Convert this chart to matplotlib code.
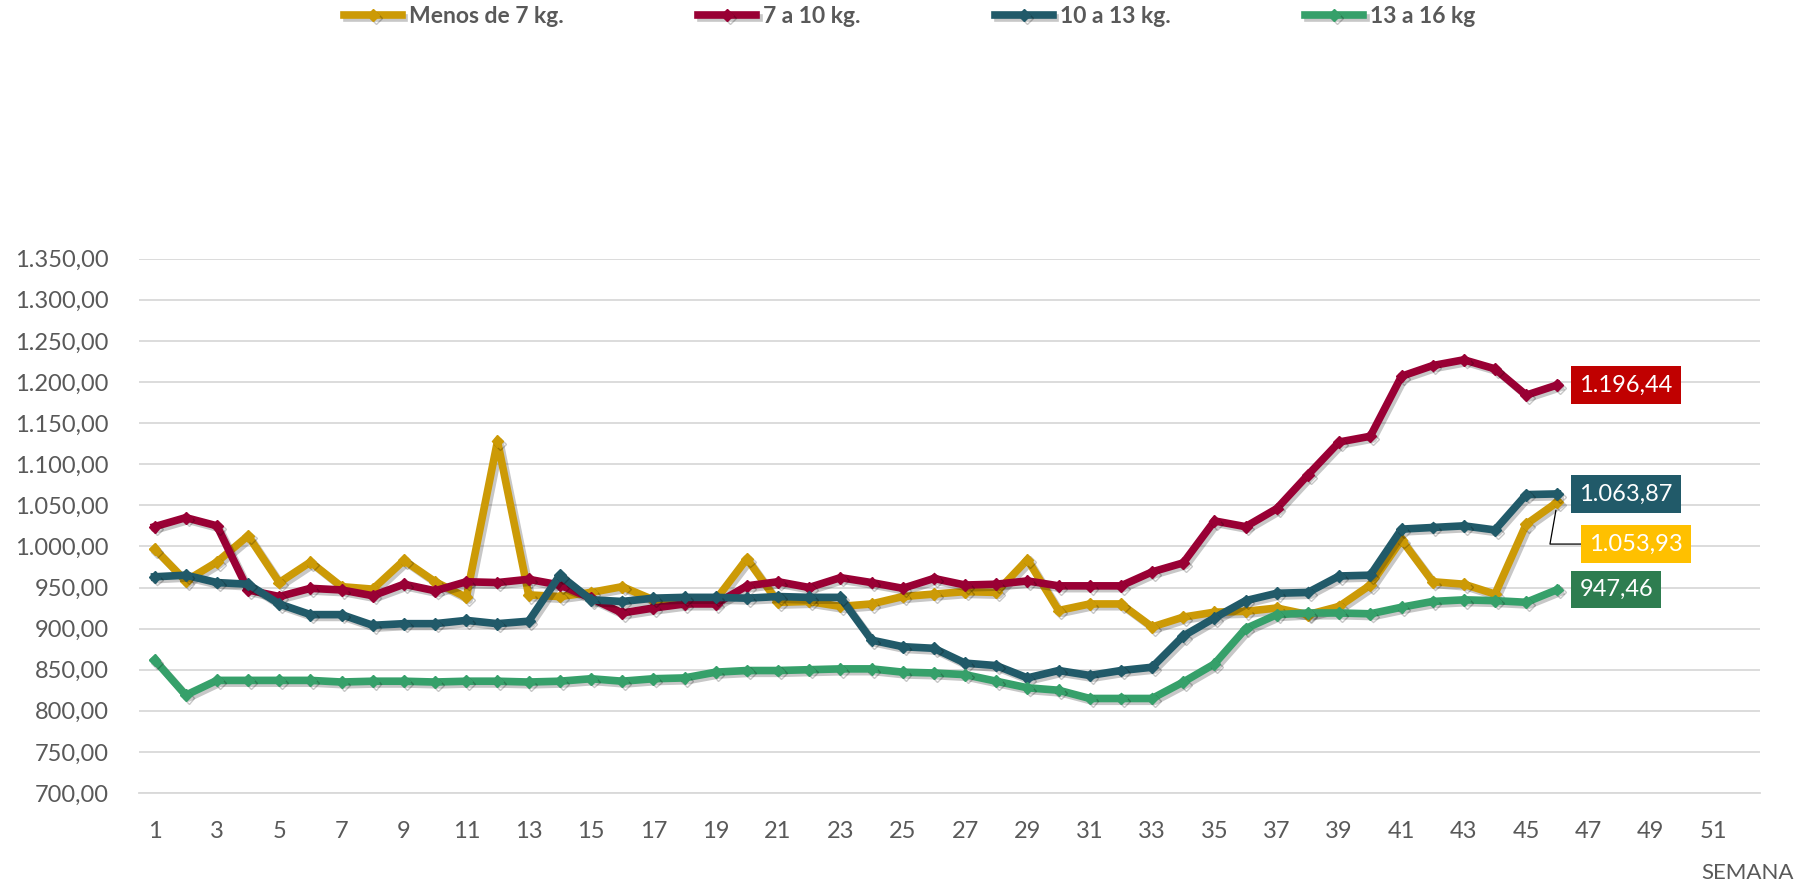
import numpy as np
import matplotlib
matplotlib.use("Agg")
import matplotlib.pyplot as plt
import matplotlib.patheffects as pe
from matplotlib.ticker import FuncFormatter


semanas = list(range(1, 47))

menos_7 = [997, 958, 981, 1013, 956, 981, 951, 948, 983, 957,
           938, 1128, 941, 939, 944, 951, 935, 935, 935, 985,
           932, 933, 927, 930, 939, 942, 945, 944, 984, 922,
           930, 930, 902, 914, 920, 921, 925, 917, 927, 953,
           1008, 957, 954, 942, 1027, 1053.93]

de_7_a_10 = [1024, 1035, 1025, 947, 939, 949, 947, 940, 954, 946,
             957, 956, 960, 953, 937, 919, 925, 930, 930, 952,
             957, 950, 962, 956, 949, 961, 953, 954, 958, 952,
             952, 952, 969, 980, 1031, 1024, 1046, 1087, 1127, 1134,
             1207, 1220, 1227, 1216, 1184, 1196.44]

de_10_a_13 = [963, 965, 956, 954, 930, 917, 917, 904, 906, 906,
              910, 906, 909, 965, 935, 933, 937, 938, 938, 937,
              939, 938, 938, 886, 878, 876, 858, 855, 840, 849,
              843, 849, 853, 891, 913, 934, 943, 944, 964, 965,
              1021, 1023, 1025, 1020, 1063, 1063.87]

de_13_a_16 = [862, 819, 837, 837, 837, 837, 835, 836, 836, 835,
              836, 836, 835, 836, 839, 836, 839, 840, 847, 849,
              849, 850, 851, 851, 847, 846, 844, 836, 828, 825,
              815, 815, 815, 835, 857, 900, 917, 919, 919, 918,
              926, 933, 935, 934, 932, 947.46]

nombres = ["Menos de 7 kg.", "7 a 10 kg.", "10 a 13 kg.", "13 a 16 kg"]
series = [menos_7, de_7_a_10, de_10_a_13, de_13_a_16]
colores = ["#CC9A06", "#990034", "#215A69", "#36A06A"]
colores_etiqueta = ["#FFC000", "#C00000", "#215A69", "#2E7D50"]

x_ticks = list(range(1, 52, 2))
y_ticks = list(range(700, 1351, 50))

gris = "#595959"


def formato_es(v, pos=None):
    s = "{:,.2f}".format(v)
    return s.replace(",", "X").replace(".", ",").replace("X", ".")


def main():
    plt.rcParams["font.family"] = ["Lato", "DejaVu Sans"]

    fig = plt.figure(figsize=(18.12, 8.86), dpi=100)
    ax = fig.add_axes([139 / 1812, 1 - 793 / 886, (1760 - 139) / 1812, (793 - 258.7) / 886])

    sombra = [pe.SimpleLineShadow(offset=(2, -2), shadow_color="black", alpha=0.22),
              pe.Normal()]

    for nombre, valores, color in zip(nombres, series, colores):
        ax.plot(semanas, valores, color=color, lw=5.5, marker="D", markersize=6,
                label=nombre, solid_joinstyle="round", path_effects=sombra)

    # 52 semanas, etiquetas centradas en cada categoria
    ax.set_xlim(0.5, 52.5)
    ax.set_ylim(700, 1350)
    ax.set_xticks(x_ticks)
    ax.set_yticks(y_ticks)
    ax.yaxis.set_major_formatter(FuncFormatter(formato_es))
    ax.tick_params(axis="both", length=0, labelsize=17, colors=gris)
    ax.tick_params(axis="y", pad=22)
    ax.tick_params(axis="x", pad=20)

    ax.grid(axis="y", color="#D9D9D9", lw=1.3)
    ax.set_axisbelow(True)
    for lado in ["top", "right", "left"]:
        ax.spines[lado].set_visible(False)
    ax.spines["bottom"].set_color("#D9D9D9")
    ax.spines["bottom"].set_linewidth(1.3)

    # etiquetas del ultimo valor
    desplaz = [(32, -42), (22, 0), (22, 0), (22, 0)]
    for valores, col, (dx, dy) in zip(series, colores_etiqueta, desplaz):
        flecha = None
        if dy != 0:
            flecha = dict(arrowstyle="-", color="black", lw=0.9, shrinkA=0, shrinkB=6,
                          connectionstyle="angle,angleA=0,angleB=80,rad=0")
        ax.annotate(formato_es(valores[-1]), xy=(semanas[-1], valores[-1]),
                    xytext=(dx, dy), textcoords="offset pixels",
                    ha="left", va="center", fontsize=17, color="white",
                    bbox=dict(boxstyle="square,pad=0.35", fc=col, ec="none"),
                    arrowprops=flecha)

    fig.legend(loc="center", bbox_to_anchor=(0.502, 0.981), ncol=4, frameon=False,
               prop={"weight": "bold", "size": 16.5}, labelcolor=gris,
               columnspacing=5.9, handlelength=2.5, handletextpad=0.3)

    fig.text(1748 / 1812, 1 - 873 / 886, "SEMANA", ha="center", va="center",
             fontsize=16, color=gris)

    fig.savefig("out.png", dpi=100)


if __name__ == "__main__":
    main()
